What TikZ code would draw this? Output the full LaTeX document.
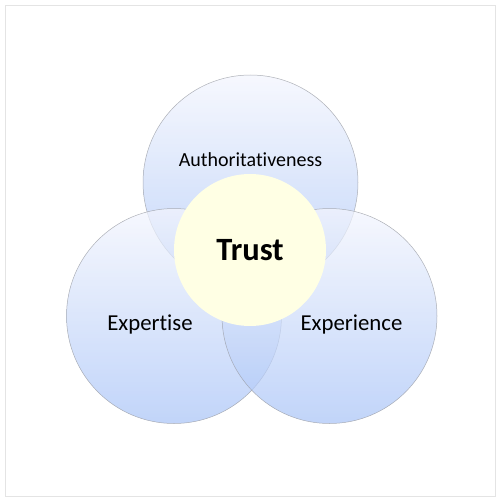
\documentclass[tikz,border=0pt]{standalone}
\usepackage{fontspec}
\setmainfont{Carlito}[Ligatures=CommonOff]
\usetikzlibrary{calc,positioning}
\definecolor{ringtop}{HTML}{F3F5FD}
\definecolor{ringbot}{HTML}{A9C4F7}
\definecolor{ringline}{HTML}{9B9EA6}
\definecolor{trustfill}{HTML}{FFFFE4}
\definecolor{frameline}{HTML}{E4E4E4}
\begin{document}
\begin{tikzpicture}[
x=1pt, y=-1pt,
ring/.style={circle, draw=ringline, line width=0.5pt, minimum size=215pt, inner sep=0pt,
  top color=ringtop, bottom color=ringbot, fill opacity=0.72, draw opacity=0.8},
core/.style={circle, fill=trustfill, minimum size=152pt, inner sep=0pt},
lbl/.style={font=\fontsize{22.8}{26}\selectfont, inner sep=0pt}
]
\useasboundingbox (0,0) rectangle (500,503);
\draw[frameline, line width=1pt] (5,6) rectangle (495,496);
% the three rings
\node[ring] (auth) at (250.5,182.5) {};
\node[ring] (expt) at (174,316) {};
\node[ring] (expc) at (329.5,316) {};
% centre
\node[core] (trust) at (250,250) {};
\node[font=\fontsize{32.5}{38}\selectfont\bfseries, inner sep=0pt] (trusttxt) at (trust) {Trust};
\node[lbl, font=\fontsize{20}{24}\selectfont] (authtxt) at ($(auth)+(0,-23)$) {Authoritativeness};
\node[lbl] (expttxt) at ($(expt)+(-24,8)$) {Expertise};
\node[lbl] (expctxt) at ($(expc)+(22,8)$) {Experience};
\end{tikzpicture}
\end{document}
